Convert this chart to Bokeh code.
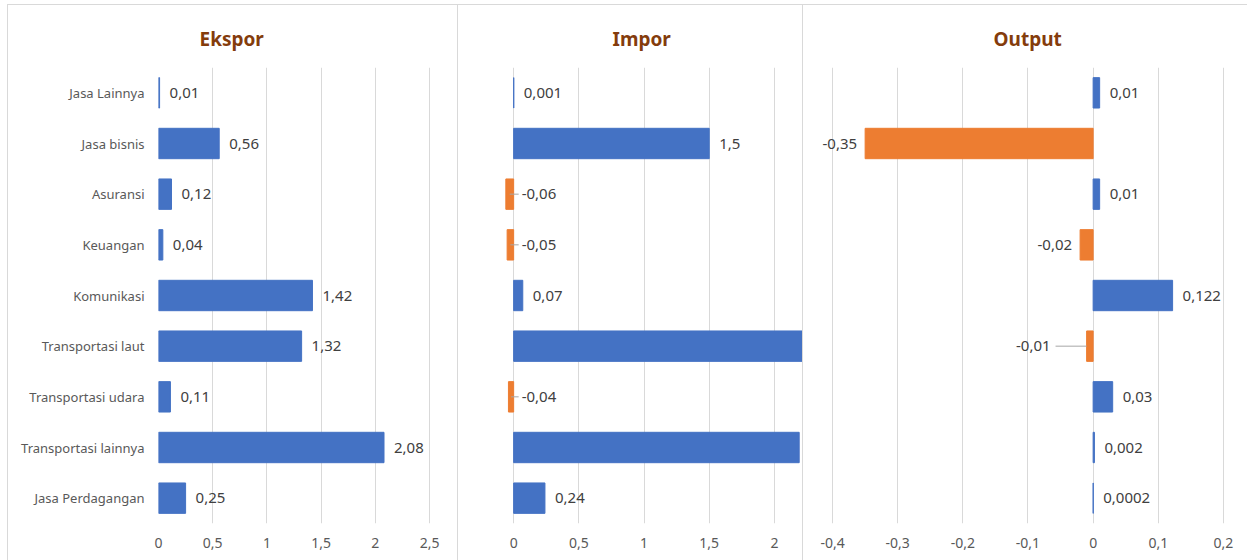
from bokeh.plotting import figure
from bokeh.models import FactorRange, Range1d, FixedTicker, ColumnDataSource, Title
from bokeh.layouts import row
from bokeh.embed import file_html
from bokeh.resources import INLINE
from bokeh.core.properties import value

categories = ["Jasa Lainnya", "Jasa bisnis", "Asuransi", "Keuangan", "Komunikasi",
              "Transportasi laut", "Transportasi udara", "Transportasi lainnya", "Jasa Perdagangan"]
ekspor = [0.01, 0.56, 0.12, 0.04, 1.42, 1.32, 0.11, 2.08, 0.25]
impor = [0.001, 1.5, -0.06, -0.05, 0.07, 2.6, -0.04, 2.19, 0.24]
output = [0.01, -0.35, 0.01, -0.02, 0.122, -0.01, 0.03, 0.002, 0.0002]
titles = ["Ekspor", "Impor", "Output"]
ekspor_ticks = [0, 0.5, 1, 1.5, 2, 2.5]
impor_ticks = [0, 0.5, 1, 1.5, 2]
output_ticks = [-0.4, -0.3, -0.2, -0.1, 0, 0.1, 0.2]

BLUE = "#4472C4"
ORANGE = "#ED7D31"
GRID = "#D9D9D9"
FONT = "Noto Sans"
TOP_GAP = 4
H = 560 - TOP_GAP
FRAME_TOP = 66 - TOP_GAP
FRAME_BOTTOM = 522 - TOP_GAP


def fmt(v):
    s = f"{v:g}" if abs(v) >= 1e-3 or v == 0 else str(v)
    return s.replace(".", ",")


def make_panel(title, vals, x_start, x_end, ticks, width, left_border, show_y,
               title_offset, margin_left):
    factors = list(reversed(categories))
    p = figure(width=width, height=H, y_range=FactorRange(*factors),
               x_range=Range1d(x_start, x_end), output_backend="svg",
               toolbar_location=None, title=None,
               min_border_left=left_border, min_border_right=0,
               min_border_top=FRAME_TOP, min_border_bottom=H - FRAME_BOTTOM)
    p.styles = {"border-top": f"1px solid {GRID}", "border-left": f"1px solid {GRID}",
                "box-sizing": "border-box", "margin-top": f"{TOP_GAP}px",
                "margin-left": f"{margin_left}px"}
    p.outline_line_color = None
    p.background_fill_color = "white"
    p.border_fill_color = "white"
    p.ygrid.grid_line_color = None
    p.xgrid.grid_line_color = GRID
    p.xgrid.grid_line_width = 1
    p.xaxis.ticker = FixedTicker(ticks=ticks)
    p.xaxis.major_label_overrides = {t: fmt(t) for t in ticks}
    p.xaxis.axis_line_color = None
    p.xaxis.major_tick_line_color = None
    p.xaxis.minor_tick_line_color = None
    p.xaxis.major_label_standoff = 8
    p.xaxis.major_label_text_font = FONT
    p.xaxis.major_label_text_font_size = "14px"
    p.xaxis.major_label_text_color = "#595959"
    if show_y:
        p.yaxis.axis_line_color = None
        p.yaxis.major_tick_line_color = None
        p.yaxis.major_tick_out = 0
        p.yaxis.major_label_standoff = 14
        p.yaxis.major_label_text_font = FONT
        p.yaxis.major_label_text_font_size = "13px"
        p.yaxis.major_label_text_color = "#595959"
    else:
        p.yaxis.visible = False

    colors = [BLUE if v >= 0 else ORANGE for v in vals]
    src = ColumnDataSource(dict(cat=categories, val=vals, color=colors))
    p.hbar(y="cat", right="val", left=0, height=0.6, fill_color="color",
           line_color="color", line_width=1, source=src)

    p.add_layout(Title(text=title, align="left", offset=title_offset, standoff=32,
                       text_font=FONT, text_font_style="bold", text_font_size="19px",
                       text_color="#843C0C"), "above")
    return p


lbl_style = dict(text_font=value(FONT), text_font_size="15px", text_color="#404040",
                 text_baseline="middle")

# Ekspor
p1 = make_panel(titles[0], ekspor, 0, 2.767, ekspor_ticks, 450, 150, True, 41, 7)
p1.text(x=ekspor, y=categories, text=[fmt(v) for v in ekspor], x_offset=10,
        text_align="left", **lbl_style)

# Impor
imp_start, imp_end = -0.423, 2.223
p2 = make_panel(titles[1], impor, imp_start, imp_end, impor_ticks, 345, 0, False, 154, 0)
px2 = (imp_end - imp_start) / 344
vis_i = [i for i, v in enumerate(impor) if v <= imp_end * 0.95]
pos_i = [i for i in vis_i if impor[i] >= 0]
neg_i = [i for i in vis_i if impor[i] < 0]
p2.text(x=[impor[i] for i in pos_i], y=[categories[i] for i in pos_i],
        text=[fmt(impor[i]) for i in pos_i], x_offset=10, text_align="left", **lbl_style)
p2.text(x=[0 for i in neg_i], y=[categories[i] for i in neg_i],
        text=[fmt(impor[i]) for i in neg_i], x_offset=8, text_align="left", **lbl_style)
p2.segment(x0=[impor[i] * 0.5 for i in neg_i], x1=[5 * px2 for i in neg_i],
           y0=[categories[i] for i in neg_i], y1=[categories[i] for i in neg_i],
           line_color="#A6A6A6", line_width=1)

# Output
out_start, out_end = -0.4446, 0.2385
p3 = make_panel(titles[2], output, out_start, out_end, output_ticks, 445, 0, False, 190, 0)
px3 = (out_end - out_start) / 444
lead = [i for i, v in enumerate(output) if -0.015 < v < 0]
pos_o = [i for i, v in enumerate(output) if v >= 0]
neg_o = [i for i, v in enumerate(output) if v < 0 and i not in lead]
p3.text(x=[output[i] for i in pos_o], y=[categories[i] for i in pos_o],
        text=[fmt(output[i]) for i in pos_o], x_offset=10, text_align="left", **lbl_style)
p3.text(x=[output[i] for i in neg_o], y=[categories[i] for i in neg_o],
        text=[fmt(output[i]) for i in neg_o], x_offset=-8, text_align="right", **lbl_style)
p3.text(x=[output[i] for i in lead], y=[categories[i] for i in lead],
        text=[fmt(output[i]) for i in lead], x_offset=-36, text_align="right", **lbl_style)
p3.segment(x0=[output[i] - 31 * px3 for i in lead], x1=[output[i] for i in lead],
           y0=[categories[i] for i in lead], y1=[categories[i] for i in lead],
           line_color="#A6A6A6", line_width=1)

layout = row(p1, p2, p3, spacing=0)
open("out.html", "w").write(file_html(layout, INLINE))
